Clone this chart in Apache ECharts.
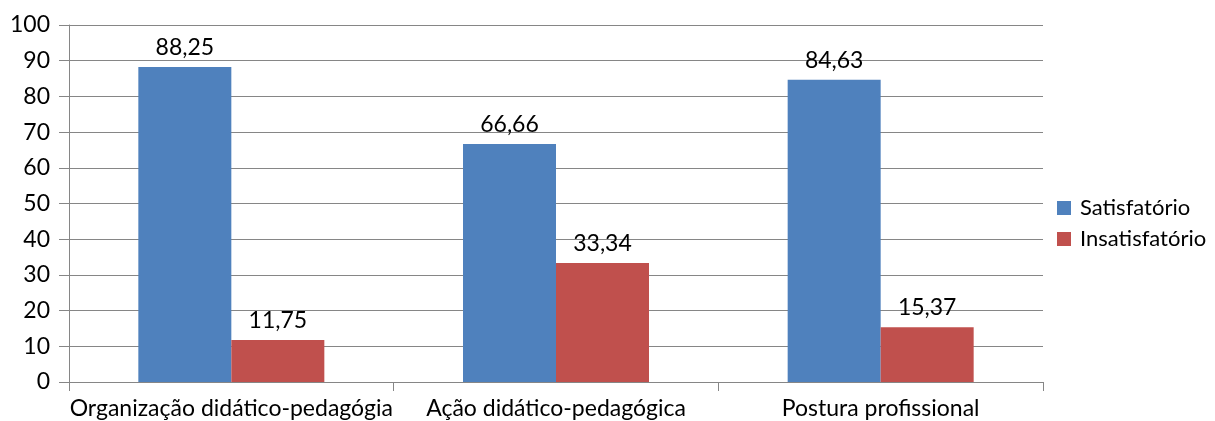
<!DOCTYPE html>
<html><head><meta charset="utf-8">
<script src="https://cdn.jsdelivr.net/npm/echarts@6/dist/echarts.min.js"></script>
<style>html,body{margin:0;padding:0;background:#fff}#c{width:1215px;height:421px}</style>
</head><body><div id="c"></div>
<script>
const categories = ['Organização didático-pedagógia', 'Ação didático-pedagógica', 'Postura profissional'];
const satisfatorio = [88.25, 66.66, 84.63];
const insatisfatorio = [11.75, 33.34, 15.37];
const yTicks = [0, 10, 20, 30, 40, 50, 60, 70, 80, 90, 100];

const FONT = 'Lato, "Open Sans", sans-serif';
const FS = 23;
const chart = echarts.init(document.getElementById('c'));
const lbl = {
  show: true, position: 'top', distance: 8, color: '#000', fontSize: FS, fontFamily: FONT,
  formatter: p => p.value.toFixed(2).replace('.', ',')
};
chart.setOption({
  animation: false,
  grid: { left: 69, right: 172, top: 25, bottom: 39, containLabel: false },
  legend: {
    orient: 'vertical', left: 1052, top: 192, itemWidth: 14, itemHeight: 14, itemGap: 9,
    icon: 'rect',
    textStyle: { fontSize: 22, lineHeight: 20, fontFamily: FONT, color: '#000', padding: [0, 0, 0, 4] },
    data: ['Satisfatório', 'Insatisfatório']
  },
  xAxis: {
    type: 'category', data: categories,
    axisLine: { lineStyle: { color: '#868686', width: 1 } },
    axisTick: { show: true, length: 9, lineStyle: { color: '#868686' } },
    axisLabel: { fontSize: FS, fontFamily: FONT, color: '#000', margin: 15, interval: 0 }
  },
  yAxis: {
    type: 'value', min: yTicks[0], max: yTicks[yTicks.length - 1], interval: 10,
    axisLine: { show: true, lineStyle: { color: '#868686', width: 1 } },
    axisTick: { show: true, length: 10, lineStyle: { color: '#868686' } },
    splitLine: { lineStyle: { color: '#868686', width: 1 } },
    axisLabel: { fontSize: FS, fontFamily: FONT, color: '#000', margin: 19 }
  },
  series: [
    { name: 'Satisfatório', type: 'bar', data: satisfatorio, barWidth: 93, barGap: '0%',
      itemStyle: { color: '#4F81BD' }, label: lbl },
    { name: 'Insatisfatório', type: 'bar', data: insatisfatorio, barWidth: 93, barGap: '0%',
      itemStyle: { color: '#C0504D' }, label: lbl }
  ]
});
</script></body></html>
